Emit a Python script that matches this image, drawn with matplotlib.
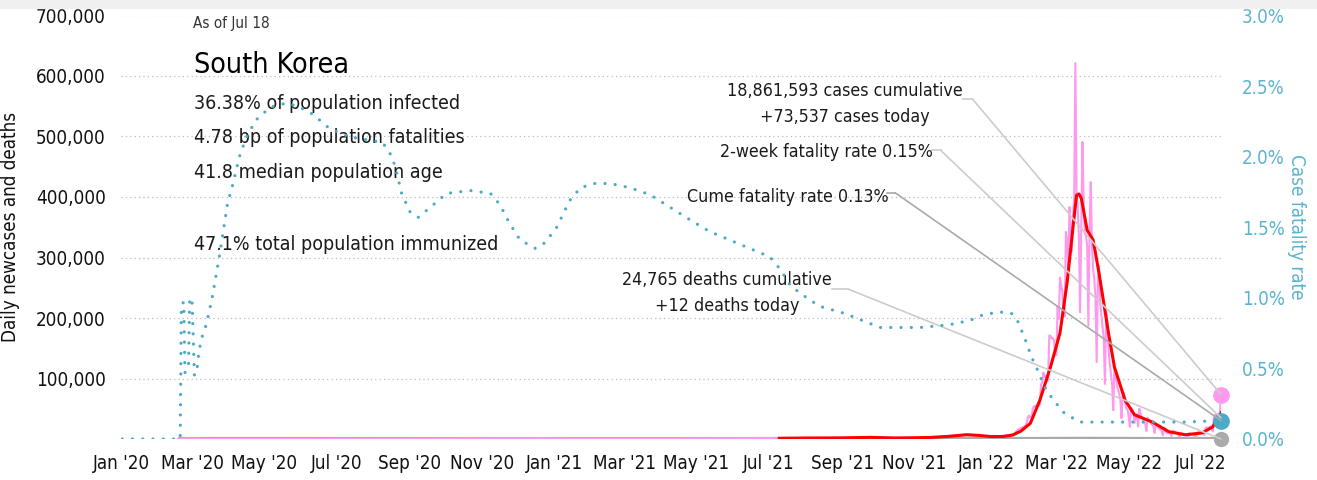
import matplotlib.pyplot as plt
import matplotlib.dates as mdates
import pandas as pd
from matplotlib.ticker import FuncFormatter, MultipleLocator
from matplotlib.patches import Rectangle

plt.rcParams['font.family'] = ['DejaVu Sans']
plt.rcParams['font.stretch'] = 'condensed'

# daily new cases, sparse before the omicron wave
cases_early_dates = ['2020-02-18', '2020-02-29', '2020-03-15', '2020-05-01', '2020-08-27',
                     '2020-12-25', '2021-01-10', '2021-04-15', '2021-07-15', '2021-08-15',
                     '2021-09-25', '2021-10-15', '2021-11-20', '2021-12-15', '2021-12-30',
                     '2022-01-10']
cases_early = [100, 900, 80, 10, 440, 1200, 660, 700, 1600, 1800, 3300, 1600, 3200, 7800, 5000, 3000]

# daily new cases (thousands) from 2022-01-20 to 2022-07-18
cases_2022_start = '2022-01-20'
cases_2022 = [
    6.6, 7.0, 7.6, 7.6, 8.6, 8.6, 13.0, 14.5, 16.1, 17.5, 17.5, 18.3,
    20.3, 20.3, 22.9, 27.4, 36.4, 38.7, 35.3, 36.7, 49.5, 54.1, 53.9, 54.9, 56.4, 54.6,
    57.2, 90.4, 93.1, 109.8, 102.2, 104.8, 95.3, 99.5, 171.4, 170.0, 166.2, 166.7, 163.5, 139.6,
    138.9, 219.2, 198.8, 266.8, 254.3, 243.6, 210.7, 202.7, 342.4, 327.5, 282.9, 383.6, 350.2,
    309.8, 362.3, 400.7, 621.3, 407.0, 381.4, 334.7, 209.2, 354.0, 490.9, 395.6, 339.5, 335.6,
    318.1, 187.2, 347.5, 424.6, 320.7,
    280.2, 264.2, 234.3, 127.2, 266.1, 286.3, 224.8, 205.3, 185.6, 164.5, 90.9, 210.7, 195.4,
    148.4, 125.8, 107.9, 93.0, 47.7, 118.5, 111.3, 90.8, 81.0, 75.4, 64.7, 34.4, 76.8, 76.1,
    60.6, 50.5, 49.0,
    37.8, 20.1, 51.1, 49.1, 42.3, 26.7, 40.0, 40.0, 20.6, 49.9, 43.9, 35.9, 32.4, 29.6, 25.4,
    13.3, 35.1, 32.0, 29.5, 25.1, 23.9, 19.3, 9.9, 23.9, 23.0, 19.3, 16.6, 15.7, 12.5, 6.1, 18.8,
    13.9, 10.1, 9.9, 12.5, 9.8, 5.0, 13.4, 13.4, 12.2, 10.6, 9.3, 7.4, 3.8, 9.4, 9.4, 8.4, 7.2,
    6.8, 6.1, 3.4, 9.3, 9.3, 7.5, 7.2, 6.2, 4.4, 3.4, 10.5, 11.7, 9.6,
    10.7, 10.7, 9.5, 6.3, 18.1, 19.4, 18.5, 19.3, 20.4, 20.4, 12.7, 37.4, 40.3, 39.2, 38.9,
    41.3, 40.3, 73.537]

# 7-day average of cases
avg_dates = ['2021-07-10', '2021-08-01', '2021-09-01', '2021-09-25', '2021-10-15', '2021-11-01',
             '2021-11-15', '2021-12-01', '2021-12-15', '2021-12-25', '2022-01-05', '2022-01-15',
             '2022-01-23', '2022-01-30', '2022-02-07', '2022-02-15', '2022-02-24', '2022-03-04',
             '2022-03-10', '2022-03-15', '2022-03-18', '2022-03-20', '2022-03-22', '2022-03-27',
             '2022-04-01', '2022-04-06', '2022-04-14', '2022-04-19', '2022-04-28', '2022-05-06',
             '2022-05-21', '2022-06-04', '2022-06-18', '2022-07-02', '2022-07-11', '2022-07-18']
avg_cases = [1200, 1600, 1800, 2700, 1700, 2000, 2600, 4500, 7000, 6000, 4000, 4200,
             6500, 13000, 26000, 64000, 119000, 175000, 258000, 350000, 403000, 405000,
             398000, 345000, 329000, 274000, 175000, 119000, 64000, 40000, 28000, 12000,
             7000, 10000, 20000, 43000]

# daily deaths
death_dates = ['2020-02-20', '2020-03-15', '2020-06-01', '2020-12-20', '2021-03-01',
               '2021-09-01', '2021-12-20', '2022-02-15', '2022-03-20', '2022-04-15',
               '2022-05-15', '2022-06-15', '2022-07-18']
deaths = [1, 6, 0, 20, 7, 8, 70, 40, 300, 200, 40, 10, 12]

# cumulative case fatality rate (%)
cfr_dates = ['2020-01-02', '2020-02-20', '2020-02-21', '2020-02-23', '2020-02-24', '2020-02-27',
             '2020-02-28', '2020-03-01', '2020-03-03', '2020-03-05', '2020-03-07', '2020-03-10',
             '2020-03-13', '2020-03-18', '2020-03-24', '2020-03-31', '2020-04-04', '2020-04-10',
             '2020-04-16', '2020-04-24', '2020-05-06', '2020-05-20', '2020-05-31', '2020-06-11',
             '2020-06-25', '2020-07-12', '2020-07-27', '2020-08-09', '2020-08-17', '2020-08-21',
             '2020-08-25', '2020-09-01', '2020-09-08', '2020-09-18', '2020-10-02', '2020-10-22',
             '2020-11-08', '2020-11-16', '2020-11-24', '2020-12-03', '2020-12-16', '2020-12-24',
             '2021-01-03', '2021-01-14', '2021-01-23', '2021-02-04', '2021-02-17', '2021-03-06',
             '2021-03-23', '2021-04-09', '2021-04-26', '2021-05-12', '2021-05-29', '2021-06-15',
             '2021-07-02', '2021-07-11', '2021-07-19', '2021-07-28', '2021-08-13', '2021-09-03',
             '2021-10-03', '2021-11-06', '2021-12-01', '2021-12-18', '2021-12-29', '2022-01-12',
             '2022-01-22', '2022-01-27', '2022-02-02', '2022-02-08', '2022-02-13', '2022-02-19',
             '2022-02-26', '2022-03-08', '2022-03-21', '2022-04-21', '2022-06-16', '2022-07-18']
cfr = [0.0, 0.0, 0.95, 0.97, 0.47, 0.5, 1.0, 0.98, 0.45, 0.48, 0.63, 0.74,
       0.81, 1.0, 1.29, 1.67, 1.79, 2.0, 2.14, 2.26, 2.35, 2.38, 2.35, 2.3,
       2.2, 2.14, 2.12, 2.1, 2.0, 1.88, 1.74, 1.61, 1.57, 1.64, 1.74, 1.76,
       1.74, 1.66, 1.53, 1.41, 1.35, 1.39, 1.5, 1.69, 1.78, 1.81, 1.81, 1.78,
       1.73, 1.64, 1.55, 1.47, 1.41, 1.35, 1.29, 1.2, 1.09, 1.03, 0.94, 0.89,
       0.79, 0.79, 0.81, 0.84, 0.88, 0.90, 0.89, 0.84, 0.72, 0.58, 0.49, 0.37,
       0.28, 0.18, 0.12, 0.12, 0.12, 0.13]

end_date = pd.Timestamp('2022-07-18')
cases_today = 73537
deaths_today = 12
rate_2wk = 0.15
rate_cume = 0.13

stats = ['36.38% of population infected', '4.78 bp of population fatalities',
         '41.8 median population age', '47.1% total population immunized']

pink = '#ff99ee'
blue = '#4aaac8'
blue_txt = '#5ab4d0'
grey = '#aaaaaa'
ink = '#1a1a1a'

daily_dates = list(pd.to_datetime(cases_early_dates)) + list(pd.date_range(cases_2022_start, periods=len(cases_2022)))
daily_vals = cases_early + [v * 1000 for v in cases_2022]

fig = plt.figure(figsize=(13.17, 4.8), dpi=100)
fig.patches.append(Rectangle((0, 1 - 8 / 480), 1, 8 / 480, transform=fig.transFigure, color='#f0f0f0', zorder=0))
ax = fig.add_axes([121 / 1317, 1 - 439 / 480, 1100 / 1317, 423.5 / 480])
ax2 = ax.twinx()

ax.plot(pd.to_datetime(death_dates), deaths, color=grey, lw=3, zorder=2)
ax.plot(daily_dates, daily_vals, color=pink, lw=1.5, zorder=3)
ax.plot(pd.to_datetime(avg_dates), avg_cases, color='#ff0000', lw=2.2, zorder=4)
ax.plot([end_date], [cases_today], 'o', color=pink, ms=11, clip_on=False, zorder=5)
ax.plot([end_date], [deaths_today], 'o', color=grey, ms=10, clip_on=False, zorder=5)

ax2.plot(pd.to_datetime(cfr_dates), cfr, color=blue, lw=2.3, linestyle=(0, (0.01, 3.2)),
         dash_capstyle='round', zorder=3)
ax2.plot([end_date], [rate_cume], 'o', color=blue, ms=11, clip_on=False, zorder=5)

ax.set_xlim(pd.Timestamp('2020-01-01'), end_date)
ax.set_ylim(0, 700000)
ax2.set_ylim(0, 3)

ax.yaxis.set_major_locator(MultipleLocator(100000))
ax.yaxis.set_major_formatter(FuncFormatter(lambda v, p: '' if v == 0 else f'{int(v):,}'))
ax2.yaxis.set_major_locator(MultipleLocator(0.5))
ax2.yaxis.set_major_formatter(FuncFormatter(lambda v, p: f'{v:.1f}%'))
ax.xaxis.set_major_locator(mdates.MonthLocator(bymonth=[1, 3, 5, 7, 9, 11]))
ax.xaxis.set_major_formatter(mdates.DateFormatter("%b '%y"))

ax.grid(axis='y', color='#bbbbbb', linestyle=(0, (1, 2.5)), lw=0.9)
ax.set_axisbelow(True)
for a in (ax, ax2):
    for s in a.spines.values():
        s.set_visible(False)
ax.tick_params(axis='both', length=0, labelsize=13.5, colors='#111111')
ax.tick_params(axis='y', pad=11)
ax.tick_params(axis='x', pad=11)
ax2.tick_params(axis='y', length=0, labelsize=13.5, colors=blue_txt, pad=15)

ax.set_ylabel('Daily newcases and deaths', fontsize=13.5, color='#111111')
ax.yaxis.set_label_coords(-0.092, 0.5)
ax2.set_ylabel('Case fatality rate', fontsize=13.5, color=blue_txt, rotation=270, va='center')
ax2.yaxis.set_label_coords(1.069, 0.5)

# text block top left
ax.text(0.0655, 0.9705, 'As of Jul 18', transform=ax.transAxes, fontsize=11, color='#333333', va='baseline')
ax.text(0.066, 0.864, 'South Korea', transform=ax.transAxes, fontsize=20.5, color='#000000', va='baseline')
for txt, yy in zip(stats, [0.779, 0.699, 0.616, 0.446]):
    ax.text(0.066, yy, txt, transform=ax.transAxes, fontsize=14, color=ink, va='baseline')

# annotations with leader lines
light = '#cccccc'
fs = 12.8
ax.text(0.658, 0.810, '18,861,593 cases cumulative', transform=ax.transAxes, fontsize=fs, ha='center', va='baseline', color=ink)
ax.text(0.658, 0.749, '+73,537 cases today', transform=ax.transAxes, fontsize=fs, ha='center', va='baseline', color=ink)
ax.plot([0.765, 0.774], [0.803, 0.803], color=light, lw=1.2, transform=ax.transAxes, clip_on=False)
ax.annotate('', xy=(end_date, cases_today), xycoords='data', xytext=(0.774, 0.803), textcoords='axes fraction',
            arrowprops=dict(arrowstyle='-', color=light, lw=1.2, shrinkA=0, shrinkB=0), zorder=6)

ax.text(0.641, 0.666, '2-week fatality rate 0.15%', transform=ax.transAxes, fontsize=fs, ha='center', va='baseline', color=ink)
ax.plot([0.737, 0.745], [0.682, 0.682], color=light, lw=1.2, transform=ax.transAxes, clip_on=False)
ax2.annotate('', xy=(end_date, rate_2wk), xycoords='data', xytext=(0.745, 0.682), textcoords='axes fraction',
             arrowprops=dict(arrowstyle='-', color=light, lw=1.2, shrinkA=0, shrinkB=0), zorder=6)

ax.text(0.606, 0.560, 'Cume fatality rate 0.13%', transform=ax.transAxes, fontsize=fs, ha='center', va='baseline', color=ink)
ax.plot([0.696, 0.704], [0.581, 0.581], color=grey, lw=1.2, transform=ax.transAxes, clip_on=False)
ax2.annotate('', xy=(end_date, rate_cume), xycoords='data', xytext=(0.704, 0.581), textcoords='axes fraction',
             arrowprops=dict(arrowstyle='-', color=grey, lw=1.2, shrinkA=0, shrinkB=0), zorder=6)

ax.text(0.551, 0.364, '24,765 deaths cumulative', transform=ax.transAxes, fontsize=fs, ha='center', va='baseline', color=ink)
ax.text(0.551, 0.302, '+12 deaths today', transform=ax.transAxes, fontsize=fs, ha='center', va='baseline', color=ink)
ax.plot([0.646, 0.661], [0.354, 0.354], color=light, lw=1.2, transform=ax.transAxes, clip_on=False)
ax.annotate('', xy=(end_date, deaths_today), xycoords='data', xytext=(0.661, 0.354), textcoords='axes fraction',
            arrowprops=dict(arrowstyle='-', color=light, lw=1.2, shrinkA=0, shrinkB=0), zorder=6)

fig.savefig('out.png', dpi=100)
